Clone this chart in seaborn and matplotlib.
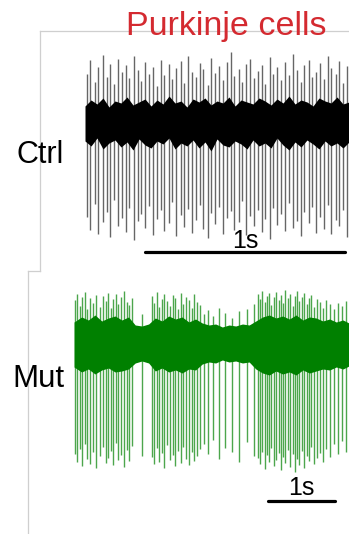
import numpy as np
import pandas as pd
import matplotlib
matplotlib.use("Agg")
import matplotlib.pyplot as plt
import seaborn as sns

# ---------------- data (time in s, amplitude in arbitrary units) ----------------
ctrl_spike_t = [0.236, 0.252, 0.275, 0.291, 0.314, 0.333, 0.349, 0.372, 0.390, 0.408,
                0.431, 0.447, 0.468, 0.489, 0.505, 0.527, 0.546, 0.563, 0.586, 0.604,
                0.621, 0.644, 0.662, 0.681, 0.703, 0.719, 0.741, 0.760, 0.778, 0.799,
                0.817, 0.838, 0.857, 0.874, 0.897, 0.914, 0.935, 0.955, 0.971, 0.993,
                1.012, 1.030, 1.051, 1.069, 1.090, 1.108, 1.127, 1.149, 1.166, 1.187,
                1.206, 1.224, 1.246, 1.263, 1.284, 1.303, 1.321, 1.343, 1.360, 1.381,
                1.400, 1.418, 1.440, 1.457, 1.478, 1.497, 1.516, 1.537]
ctrl_spike_up = [48, 62, 40, 55, 67, 45, 58, 38, 63, 50,
                 57, 44, 66, 52, 41, 60, 48, 55, 36, 62,
                 47, 58, 43, 54, 61, 39, 66, 50, 45, 59,
                 53, 37, 64, 49, 56, 42, 60, 70, 46, 53,
                 40, 58, 63, 44, 51, 57, 38, 65, 48, 55,
                 42, 60, 47, 68, 52, 40, 57, 62, 45, 50,
                 59, 43, 66, 54, 48, 61, 39, 56]
ctrl_spike_down = [-95, -108, -82, -112, -100, -90, -115, -78, -104, -96,
                   -110, -86, -118, -99, -92, -106, -84, -113, -97, -88,
                   -109, -101, -80, -114, -93, -105, -87, -111, -98, -83,
                   -107, -116, -91, -102, -85, -112, -96, -89, -108, -100,
                   -79, -113, -94, -104, -88, -110, -97, -117, -86, -103,
                   -92, -109, -81, -106, -99, -114, -90, -101, -85, -111,
                   -95, -107, -83, -112, -98, -104, -88, -115]
ctrl_band_t = [0.225, 0.255, 0.285, 0.315, 0.345, 0.375, 0.405, 0.435, 0.465, 0.495,
               0.525, 0.555, 0.585, 0.615, 0.645, 0.675, 0.705, 0.735, 0.765, 0.795,
               0.825, 0.855, 0.885, 0.915, 0.945, 0.975, 1.005, 1.035, 1.065, 1.095,
               1.125, 1.155, 1.185, 1.215, 1.245, 1.275, 1.305, 1.335, 1.365, 1.395,
               1.425, 1.455, 1.485, 1.515, 1.545]
ctrl_band_hi = [16, 22, 18, 24, 15, 21, 19, 25, 17, 20,
                23, 16, 22, 18, 26, 19, 21, 15, 23, 20,
                24, 17, 21, 19, 25, 16, 22, 20, 18, 24,
                21, 17, 23, 19, 26, 18, 22, 20, 16, 24,
                21, 19, 25, 18, 20]
ctrl_band_lo = [-19, -24, -16, -27, -21, -18, -25, -20, -28, -17,
                -23, -26, -19, -22, -16, -27, -21, -24, -18, -26,
                -20, -29, -17, -23, -25, -19, -22, -27, -18, -24,
                -21, -26, -16, -23, -28, -20, -25, -18, -22, -27,
                -19, -24, -21, -26, -20]

mut_spike_t = [0.70, 0.735, 0.77, 0.81, 0.85, 0.885, 0.93, 0.975, 1.02, 1.08,
               1.12, 1.16, 1.20, 1.235, 1.27, 1.31, 1.35, 1.39, 1.43, 1.47,
               1.51, 1.55, 1.70,
               1.85, 1.885, 1.92, 1.96, 2.00, 2.035, 2.08, 2.12, 2.16, 2.195,
               2.24, 2.28, 2.32, 2.36, 2.40, 2.44, 2.48, 2.52, 2.56,
               2.62, 2.69, 2.76, 2.85, 2.94, 3.05, 3.15, 3.27, 3.37,
               3.43, 3.46, 3.49, 3.53, 3.56, 3.60, 3.63, 3.67, 3.70, 3.74,
               3.77, 3.81, 3.84, 3.88, 3.91, 3.95, 3.98, 4.02, 4.05, 4.09,
               4.12, 4.16, 4.19, 4.23, 4.27, 4.31, 4.35, 4.40, 4.45, 4.50,
               4.56, 4.62, 4.68, 4.74]
mut_spike_up = [44, 50, 38, 47, 52, 35, 46, 41, 49, 37,
                48, 43, 51, 36, 45, 50, 40, 47, 53, 42,
                39, 46, 30,
                48, 41, 52, 37, 45, 50, 43, 38, 49, 46,
                35, 51, 40, 47, 44, 36, 50, 42, 39,
                30, 34, 28, 36, 31, 26, 33, 35, 40,
                50, 45, 53, 42, 48, 51, 39, 47, 52, 44,
                49, 41, 54, 46, 50, 38, 48, 53, 43, 47,
                51, 40, 46, 49, 37, 45, 42, 36, 44, 40,
                35, 41, 38, 43]
mut_spike_down = [-110, -118, -105, -122, -100, -115, -120, -108, -124, -112,
                  -103, -119, -114, -107, -121, -99, -116, -111, -123, -106,
                  -117, -102, -112,
                  -113, -120, -104, -118, -109, -124, -101, -116, -111, -122,
                  -107, -119, -103, -115, -121, -108, -117, -112, -105,
                  -100, -110, -96, -115, -104, -108, -118, -98, -112,
                  -114, -120, -108, -125, -111, -118, -104, -122, -116, -109,
                  -126, -113, -119, -106, -123, -110, -128, -115, -121, -107,
                  -124, -112, -117, -103, -120, -114, -109, -118, -105, -113,
                  -100, -110, -97, -108]
mut_band_t = [0.687, 0.8, 0.9, 1.0, 1.1, 1.2, 1.3, 1.4, 1.5, 1.6,
              1.7, 1.8, 1.9, 2.0, 2.1, 2.2, 2.3, 2.4, 2.5, 2.6,
              2.7, 2.8, 2.9, 3.0, 3.1, 3.2, 3.3, 3.4, 3.5, 3.6,
              3.7, 3.8, 3.9, 4.0, 4.1, 4.2, 4.3, 4.4, 4.5, 4.6,
              4.7, 4.79]
mut_band_hi = [22, 27, 24, 29, 23, 26, 28, 24, 27, 19,
               18, 20, 26, 23, 28, 25, 27, 22, 25, 21,
               19, 20, 17, 19, 18, 20, 19, 23, 27, 29,
               26, 28, 25, 29, 24, 27, 26, 23, 25, 22,
               24, 21]
mut_band_lo = [-23, -28, -25, -30, -26, -24, -28, -27, -25, -19,
               -17, -19, -27, -24, -28, -26, -29, -25, -26, -20,
               -18, -19, -16, -18, -17, -19, -18, -25, -29, -31,
               -27, -30, -28, -31, -26, -29, -27, -25, -26, -23,
               -25, -22]

row_labels = ["Ctrl", "Mut"]
title_text = "Purkinje cells"
scale_text = "1s"

# ---------------- style ----------------
sns.set_theme(style="white")
plt.rcParams["font.family"] = ["Liberation Sans", "DejaVu Sans"]
plt.rcParams["text.color"] = "black"

W, H = 349, 534
fig = plt.figure(figsize=(W / 100, H / 100), dpi=100)
frame_color = "#cfcfcf"

ctrl = pd.DataFrame({"t": ctrl_spike_t, "up": ctrl_spike_up, "down": ctrl_spike_down})
mut = pd.DataFrame({"t": mut_spike_t, "up": mut_spike_up, "down": mut_spike_down})

# Ctrl panel
ax1 = fig.add_axes([40 / W, (H - 271) / H, 309 / W, 240 / H])
ax1.set_xlim(0, 1.545)
ax1.set_ylim(-149, 91)
ax1.fill_between(ctrl_band_t, ctrl_band_lo, ctrl_band_hi, color="black", lw=0)
ax1.vlines(ctrl["t"], ctrl["down"], ctrl["up"], color="black", lw=1.0, alpha=0.6)
sns.lineplot(x=[0.525, 1.525], y=[-130, -130], ax=ax1, color="black", lw=2.3)
ax1.text(1.025, -126, scale_text, ha="center", va="baseline", fontsize=18, color="black")

# Mut panel
ax2 = fig.add_axes([28 / W, 0, 321 / W, 263 / H])
ax2.set_xlim(0, 4.79)
ax2.set_ylim(-190, 73)
green = "#008000"
ax2.fill_between(mut_band_t, mut_band_lo, mut_band_hi, color=green, lw=0)
ax2.vlines(mut["t"], mut["down"], mut["up"], color=green, lw=1.0, alpha=0.7)
sns.lineplot(x=[3.58, 4.58], y=[-157, -157], ax=ax2, color="black", lw=2.3)
ax2.text(4.08, -151, scale_text, ha="center", va="baseline", fontsize=18, color="black")

for ax in (ax1, ax2):
    ax.set_xticks([])
    ax.set_yticks([])
    ax.set_facecolor("none")
    ax.set_xlabel("")
    ax.set_ylabel("")
    for s in ("right", "bottom"):
        ax.spines[s].set_visible(False)
    for s in ("left", "top"):
        ax.spines[s].set_color(frame_color)
        ax.spines[s].set_linewidth(0.9)
ax2.spines["top"].set_bounds(0, 12 / 67)

fig.text(16 / W, 1 - 163 / H, row_labels[0], ha="left", va="baseline", fontsize=22,
         color="black")
fig.text(12 / W, 1 - 387 / H, row_labels[1], ha="left", va="baseline", fontsize=22.5,
         color="black")
fig.text(226 / W, 1 - 35 / H, title_text, ha="center", va="baseline", fontsize=24.5,
         color="#d42a30")

fig.savefig("out.png", dpi=100)
